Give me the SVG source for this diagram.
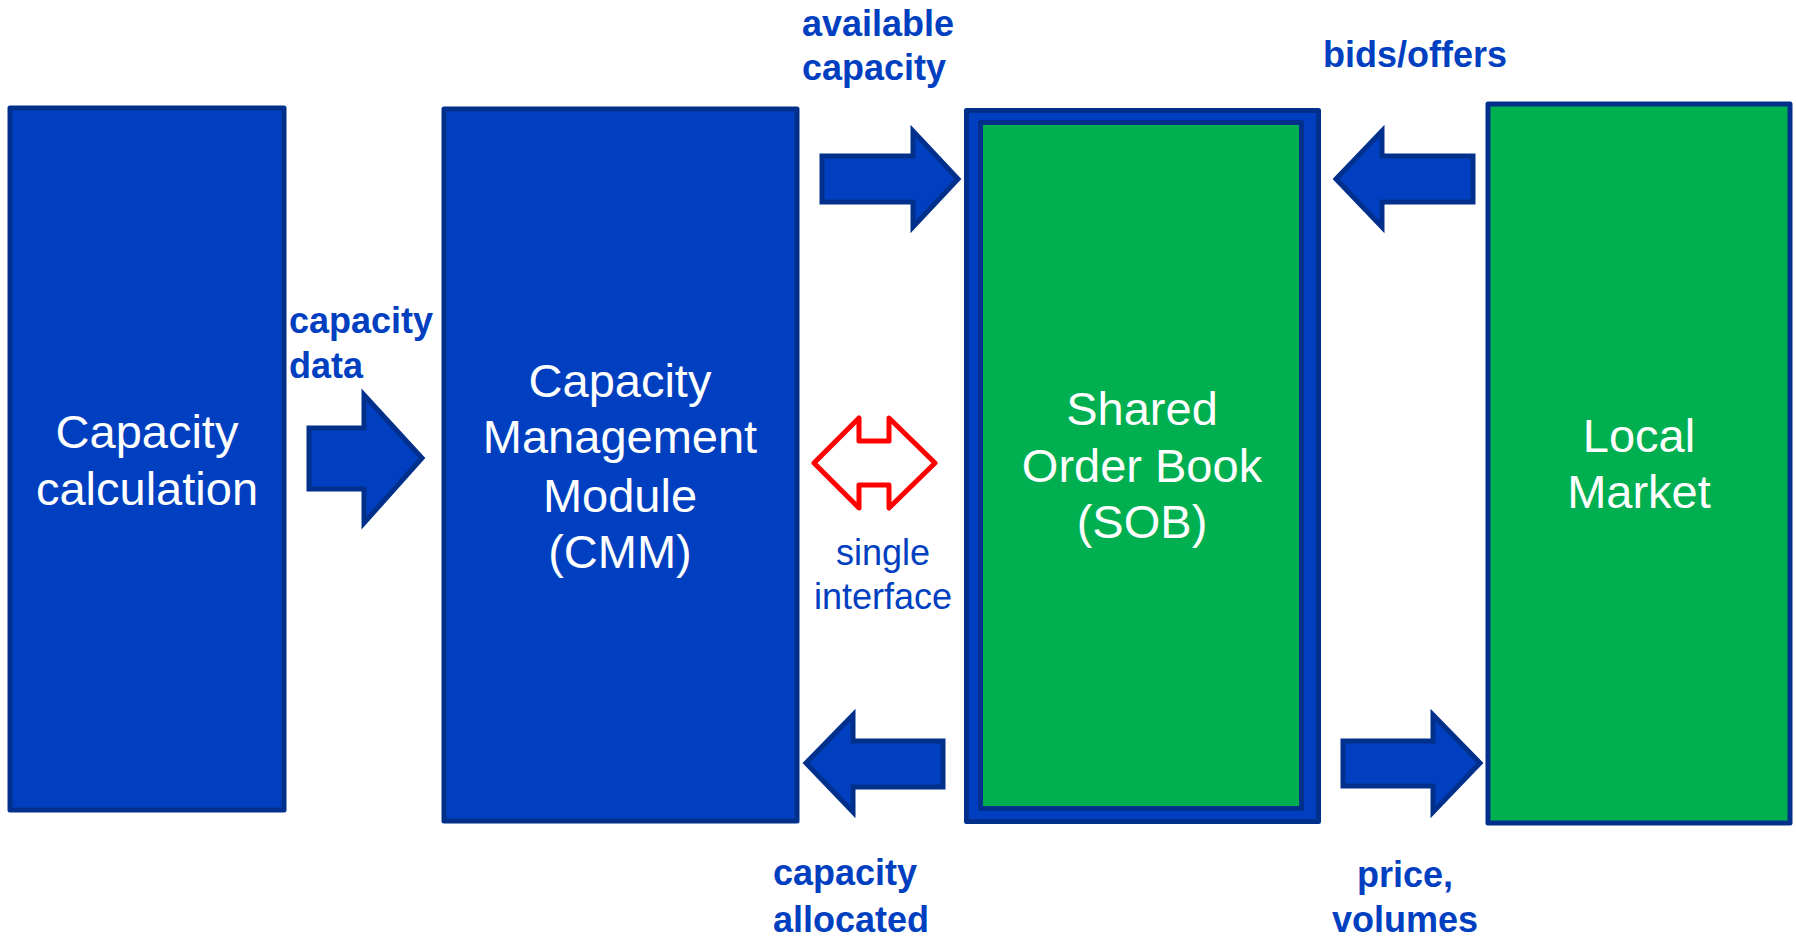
<svg xmlns="http://www.w3.org/2000/svg" width="1796" height="938" viewBox="0 0 1796 938">
  <style>
    .blue { fill: #0040C0; stroke: #00308C; stroke-width: 5; stroke-linejoin: round; }
    .green { fill: #00B050; stroke: #00308C; stroke-width: 5; stroke-linejoin: round; }
    .flow { fill: #0040C0; stroke: #00308C; stroke-width: 5; stroke-linejoin: miter; }
    .iface { fill: #FFFFFF; stroke: #FF0000; stroke-width: 5; stroke-linejoin: round; }
    .title { font-family: "Liberation Sans", Arial, sans-serif; font-size: 47px; fill: #FFFFFF; text-anchor: middle; }
    .label { font-family: "Liberation Sans", Arial, sans-serif; font-size: 36px; font-weight: bold; fill: #0040C0; }
    .note { font-family: "Liberation Sans", Arial, sans-serif; font-size: 36px; fill: #0040C0; text-anchor: middle; }
  </style>
  <rect width="1796" height="938" fill="#FFFFFF"/>

  <g id="capacity-calculation">
    <rect class="blue" x="10" y="108" width="274" height="702"/>
    <text class="title" x="147" y="448">Capacity</text>
    <text class="title" x="147" y="505">calculation</text>
  </g>

  <g id="cmm">
    <rect class="blue" x="444" y="109" width="353" height="712"/>
    <text class="title" x="620" y="397">Capacity</text>
    <text class="title" x="620" y="453">Management</text>
    <text class="title" x="620" y="512">Module</text>
    <text class="title" x="620" y="568">(CMM)</text>
  </g>

  <g id="sob">
    <rect class="blue" x="966.5" y="110.5" width="352" height="711"/>
    <rect class="green" x="980.5" y="122.5" width="321" height="686"/>
    <text class="title" x="1142" y="425">Shared</text>
    <text class="title" x="1142" y="482">Order Book</text>
    <text class="title" x="1142" y="538">(SOB)</text>
  </g>

  <g id="local-market">
    <rect class="green" x="1488" y="104" width="302" height="719"/>
    <text class="title" x="1639" y="452">Local</text>
    <text class="title" x="1639" y="508">Market</text>
  </g>

  <g id="connectors">
    <!-- capacity data: calculation to CMM -->
    <polygon class="flow" points="309,428 364,428 364,395 422,458 364,523 364,489 309,489"/>
    <!-- available capacity: CMM to SOB -->
    <polygon class="flow" points="822,156 913,156 913,131 958,179 913,227 913,202 822,202"/>
    <!-- capacity allocated: SOB to CMM -->
    <polygon class="flow" points="943,741 853,741 853,715 806,763 853,812 853,787 943,787"/>
    <!-- bids/offers: local market to SOB -->
    <polygon class="flow" points="1473,156 1382,156 1382,131 1336,179 1382,227 1382,202 1473,202"/>
    <!-- price, volumes: SOB to local market -->
    <polygon class="flow" points="1343,741 1433,741 1433,715 1480,763 1433,812 1433,786 1343,786"/>
    <!-- single interface between CMM and SOB -->
    <polygon class="iface" points="814,463 859,418 859,441 889,441 889,418 935,463 889,508 889,485 859,485 859,508"/>

    <text class="label" x="289" y="333">capacity</text>
    <text class="label" x="289" y="378">data</text>
    <text class="label" x="802" y="36">available</text>
    <text class="label" x="802" y="80">capacity</text>
    <text class="label" x="1323" y="67">bids/offers</text>
    <text class="label" x="773" y="885">capacity</text>
    <text class="label" x="773" y="932">allocated</text>
    <text class="label" x="1405" y="887" text-anchor="middle">price,</text>
    <text class="label" x="1405" y="932" text-anchor="middle">volumes</text>
    <text class="note" x="883" y="565">single</text>
    <text class="note" x="883" y="609">interface</text>
  </g>
</svg>
